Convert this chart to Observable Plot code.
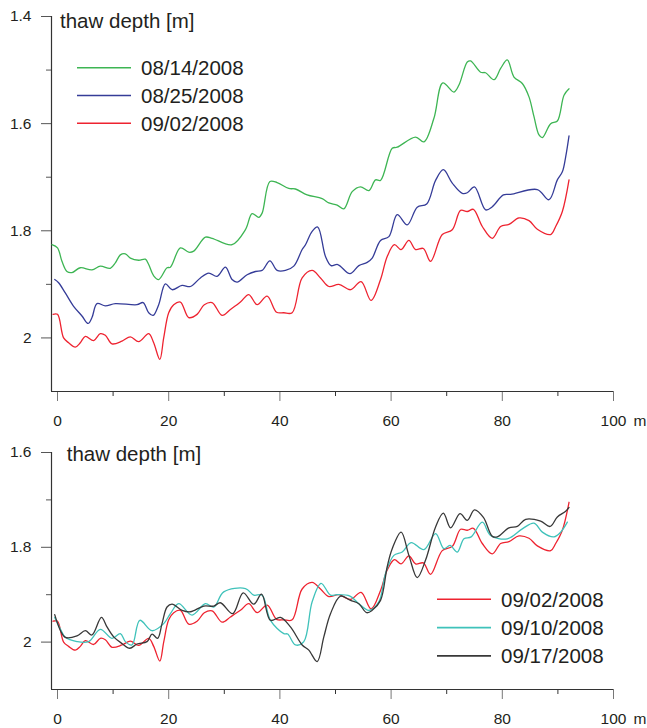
<!DOCTYPE html>
<html><head><meta charset="utf-8">
<script src="https://cdn.jsdelivr.net/npm/d3@7"></script>
<script src="https://cdn.jsdelivr.net/npm/@observablehq/plot@0.6"></script>
<style>body{margin:0;background:#fff} svg{display:block}</style>
</head><body><div id="chart"></div>
<script>
// ---- data (distance along transect [m], thaw depth [m]) ----
const xTicks = [0, 20, 40, 60, 80, 100];
const xMinor = [10, 30, 50, 70, 90];
const topYTicks = [1.4, 1.6, 1.8, 2];
const topYMinor = [1.5, 1.7, 1.9];
const botYTicks = [1.6, 1.8, 2];
const botYMinor = [1.7, 1.9];
const titleText = "thaw depth [m]";
const unitText = "m";

const aug14X = [-1,0,0.8,1.7,2.6,4.1,6.2,7.7,9.5,10.4,11.3,12.2,13.1,14.6,15.8,16.4,17.3,18.2,19.7,20.3,22.1,23.6,24.5,26.6,27.8,31.4,33.8,35.0,36.2,36.8,38.2,39.5,41.6,42.8,44.9,47.6,48.8,50.3,51.5,53.0,54.5,56.0,57.2,58.1,60.2,61.1,64.4,65.9,67.7,69.3,71.3,72.2,73.7,74.3,76.1,77.0,78.5,79.7,80.9,82.1,83.6,84.8,85.7,86.6,87.2,88.7,89.9,91.1,92.0];
const aug14D = [1.826,1.832,1.857,1.876,1.878,1.869,1.873,1.866,1.870,1.860,1.845,1.843,1.851,1.855,1.853,1.863,1.884,1.891,1.869,1.868,1.832,1.840,1.838,1.812,1.814,1.826,1.798,1.768,1.775,1.767,1.708,1.710,1.721,1.722,1.733,1.740,1.748,1.752,1.759,1.727,1.718,1.725,1.705,1.706,1.646,1.644,1.625,1.634,1.590,1.524,1.541,1.528,1.485,1.483,1.504,1.505,1.518,1.497,1.481,1.513,1.525,1.550,1.587,1.621,1.626,1.600,1.595,1.547,1.535];

const aug25X = [-0.5,0.2,1.4,2.9,4.4,5.5,6.2,7.1,8.6,10.4,14.3,15.4,16.4,17.2,18.2,19.4,20.6,22.4,23.9,25.7,27.2,28.7,30.2,31.4,32.3,34.1,35.6,36.8,38.2,39.5,41.0,42.5,44.0,44.6,45.8,46.8,48.2,49.2,50.4,52.6,54.2,55.7,56.6,58.1,59.6,61.1,62.9,64.7,66.4,68.0,69.4,71.0,72.8,73.7,75.0,77.0,78.2,80.2,81.5,86.3,88.4,89.9,90.8,91.4,92.0];
const aug25D = [1.891,1.897,1.916,1.941,1.959,1.973,1.962,1.936,1.940,1.936,1.938,1.934,1.953,1.958,1.938,1.899,1.910,1.902,1.904,1.888,1.879,1.885,1.868,1.891,1.896,1.882,1.876,1.874,1.856,1.874,1.874,1.866,1.835,1.826,1.801,1.793,1.848,1.865,1.863,1.880,1.865,1.859,1.851,1.818,1.811,1.770,1.789,1.756,1.750,1.706,1.686,1.711,1.730,1.729,1.718,1.761,1.755,1.733,1.732,1.723,1.742,1.705,1.690,1.662,1.623];

const sep02X = [-0.8,0,1.1,2.0,3.2,4.1,5.0,6.5,7.7,8.6,9.8,11.6,13.1,14.6,16.4,17.3,18.4,19.1,20.0,20.9,22.1,23.6,25.1,26.4,27.8,29.6,31.1,32.9,34.4,35.9,37.7,39.4,40.7,42.2,44.0,45.8,47.3,48.8,50.6,52.7,54.6,56.4,58.1,59.3,60.6,61.8,63.2,64.4,65.8,67.1,69.2,71.0,72.5,73.7,74.8,76.4,78.2,79.7,81.2,83.0,84.8,86.3,88.7,89.6,90.8,92.0];
const sep02D = [1.956,1.956,2.000,2.009,2.017,2.009,1.997,2.005,1.992,1.995,2.011,2.006,1.998,2.007,1.992,2.009,2.040,2.000,1.953,1.938,1.933,1.962,1.956,1.938,1.934,1.958,1.947,1.933,1.919,1.938,1.922,1.952,1.953,1.953,1.888,1.874,1.888,1.904,1.900,1.910,1.895,1.930,1.891,1.848,1.826,1.835,1.818,1.835,1.833,1.857,1.807,1.798,1.762,1.764,1.760,1.792,1.814,1.792,1.788,1.776,1.781,1.797,1.807,1.792,1.764,1.705];

const sep10X = [-0.5,0.5,1.4,3.5,5.6,7.7,9.8,11.3,12.2,13.4,14.8,17.0,19.1,20.3,21.8,24.2,26.6,28.1,29.9,33.8,35.3,36.8,38.3,40.7,41.4,42.8,44.3,45.8,47.4,49.1,50.3,52.6,54.2,56.0,57.8,59.0,60.5,62.0,63.6,65.9,68.0,69.5,70.6,71.9,73.1,74.4,76.4,77.9,80.9,83.6,85.7,87.2,89.3,90.5,91.7];
const sep10D = [1.948,1.972,1.990,1.999,1.999,1.973,1.992,1.982,1.999,2.006,1.954,1.976,1.961,1.940,1.919,1.943,1.919,1.926,1.894,1.887,1.901,1.901,1.954,1.982,1.983,2.006,1.999,1.915,1.876,1.901,1.900,1.903,1.919,1.933,1.915,1.855,1.817,1.810,1.790,1.805,1.771,1.803,1.796,1.810,1.782,1.778,1.747,1.775,1.782,1.761,1.749,1.768,1.778,1.768,1.747];

const sep17X = [-0.5,0.5,1.4,3.5,5.0,6.2,7.9,8.9,10.1,11.6,13.0,14.3,16.1,17.0,18.0,18.8,19.7,20.6,22.4,23.9,26.3,28.1,29.3,31.5,33.4,35.3,36.7,38.3,40.1,41.9,44.0,45.2,46.7,47.9,49.1,50.9,52.7,54.2,55.6,56.6,58.1,59.3,60.2,61.8,63.2,64.7,66.2,68.0,69.4,70.7,72.4,73.7,75.0,76.6,78.2,79.1,81.2,82.7,84.2,86.9,88.6,89.9,91.4,92.0];
const sep17D = [1.942,1.975,1.990,1.987,1.976,1.985,1.948,1.968,1.989,2.003,2.013,2.004,1.999,1.983,1.992,1.961,1.926,1.920,1.933,1.936,1.924,1.924,1.917,1.940,1.896,1.920,1.899,1.954,1.948,1.968,2.006,2.017,2.041,1.989,1.940,1.903,1.912,1.919,1.938,1.933,1.912,1.841,1.803,1.768,1.817,1.864,1.827,1.757,1.728,1.759,1.729,1.743,1.721,1.737,1.777,1.778,1.759,1.756,1.741,1.745,1.756,1.736,1.724,1.716];

const topSeries = [
  {name: "08/14/2008", xs: aug14X, ds: aug14D, color: "#3db553"},
  {name: "08/25/2008", xs: aug25X, ds: aug25D, color: "#353c98"},
  {name: "09/02/2008", xs: sep02X, ds: sep02D, color: "#ee2330"}
];
const botSeries = [
  {name: "09/02/2008", xs: sep02X, ds: sep02D, color: "#ee2330"},
  {name: "09/10/2008", xs: sep10X, ds: sep10D, color: "#3fc2ba"},
  {name: "09/17/2008", xs: sep17X, ds: sep17D, color: "#383838"}
];

const xDomain = [-1.08, 100];
const ink = "#231f20";
const font = "'Liberation Sans', Arial, Helvetica, sans-serif";

function panel({height, marginTop, marginBottom, yDomain, yTicks, yMinor, series, legend, title}) {
  const marks = [];
  marks.push(Plot.axisY({ticks: yTicks, tickSize: 10, tickPadding: 10, tickFormat: d => String(d), stroke: "#555", label: null}));
  marks.push(Plot.axisY({ticks: yMinor, tickSize: 5, tickFormat: () => "", stroke: "#555", label: null}));
  marks.push(Plot.axisX({ticks: xTicks, tickSize: 10, tickPadding: 13, tickFormat: d => String(d), stroke: "#777", label: null}));
  marks.push(Plot.axisX({ticks: xMinor, tickSize: 5, tickFormat: () => "", stroke: "#333", label: null}));
  marks.push(Plot.ruleX([xDomain[0]], {stroke: "#333", strokeWidth: 1.2}));
  marks.push(Plot.ruleY([yDomain[1]], {stroke: "#333", strokeWidth: 1.2}));
  marks.push(Plot.text([unitText], {x: 100, y: yDomain[1], text: d => d, dx: 20, dy: 23, textAnchor: "start", lineAnchor: "top", fill: ink, fontSize: 15.5}));
  for (const s of series) {
    const rows = s.xs.map((x, i) => ({x, d: s.ds[i]}));
    marks.push(Plot.line(rows, {x: "x", y: "d", stroke: s.color, strokeWidth: 1.3, curve: "catmull-rom"}));
  }
  const svg = Plot.plot({
    width: 647, height, marginLeft: 51, marginRight: 34, marginTop, marginBottom,
    x: {domain: xDomain},
    y: {domain: yDomain, reverse: true},
    style: {fontFamily: font, fontSize: "15.5px", color: ink, background: "#fff", overflow: "visible"},
    marks
  });
  const g = d3.select(svg).append("g").attr("font-family", font).attr("fill", ink).attr("text-anchor", "start");
  g.append("text").attr("x", title.x).attr("y", title.y).attr("font-size", 20.5).attr("text-anchor", "start").text(titleText);
  series.forEach((s, i) => {
    const y = legend.y + i * legend.dy;
    g.append("line").attr("x1", legend.x).attr("x2", legend.x + 54).attr("y1", y).attr("y2", y)
      .attr("stroke", s.color).attr("stroke-width", 1.6);
    g.append("text").attr("x", legend.x + 64).attr("y", y + 7.2).attr("font-size", 20.5).attr("text-anchor", "start").text(s.name);
  });
  return svg;
}

const root = document.getElementById("chart");
root.appendChild(panel({height: 435, marginTop: 16, marginBottom: 44, yDomain: [1.4, 2.1],
  yTicks: topYTicks, yMinor: topYMinor, series: topSeries,
  legend: {x: 77, y: 67.7, dy: 27.8}, title: {x: 60, y: 27.5}}));
root.appendChild(panel({height: 293, marginTop: 17, marginBottom: 39, yDomain: [1.6, 2.1],
  yTicks: botYTicks, yMinor: botYMinor, series: botSeries,
  legend: {x: 437, y: 164.3, dy: 28.3}, title: {x: 66.7, y: 26}}));
</script></body></html>
